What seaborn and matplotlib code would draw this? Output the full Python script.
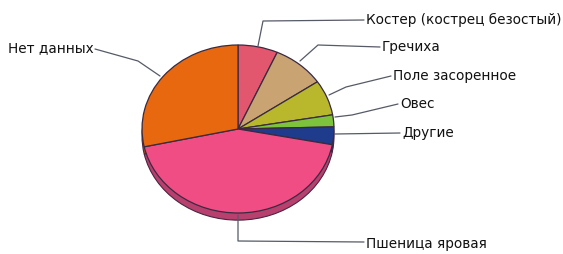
import matplotlib
matplotlib.use("Agg")
import matplotlib.pyplot as plt
import seaborn as sns

# slice data (clockwise from 12 o'clock)
labels = ["Костер (кострец безостый)", "Гречиха", "Поле засоренное", "Овес",
          "Другие", "Пшеница яровая", "Нет данных"]
shares = [6.7, 8.8, 6.8, 2.3, 3.4, 43.6, 28.4]
colors = ["#e2566e", "#c9a472", "#b9b82c", "#7dc43c", "#1f3c8c", "#f04d84", "#e8680f"]
side_colors = ["#b04256", "#9c7f58", "#8f8e22", "#5f962e", "#162c68", "#b8406e", "#b4500c"]

# leader lines in pixel coords: (points, text position, ha)
leaders = [
    ([(258, 47), (263, 22), (364, 21)], (366, 20), "left"),
    ([(300, 62), (318, 46), (380, 48)], (382, 47), "left"),
    ([(329, 96), (346, 88), (391, 77)], (393, 76), "left"),
    ([(335, 118), (352, 116), (398, 105)], (400, 104), "left"),
    ([(335, 135), (400, 134)], (402, 133), "left"),
    ([(238, 216), (238, 242), (364, 243)], (366, 244), "left"),
    ([(95, 50), (138, 62), (160, 77)], (94, 48), "right"),
]

sns.set_style("white")
plt.rcParams["font.family"] = ["DejaVu Sans"]

W, H = 563, 255
fig = plt.figure(figsize=(W / 100, H / 100), dpi=100)

# pie axes: ellipse center (238,130), rx 96, ry 84 in pixels
cx, cy, rx, ry = 238, 130, 96, 84
ax = fig.add_axes([(cx - rx) / W, 1 - (cy + ry * 1.2) / H, 2 * rx / W, 2.2 * ry / H])
depth = 0.085
ax.pie(shares, colors=side_colors, startangle=90, counterclock=False,
       center=(0, -depth), radius=1,
       wedgeprops=dict(edgecolor="#4a2540", linewidth=0.8))
ax.pie(shares, colors=colors, startangle=90, counterclock=False,
       center=(0, 0), radius=1,
       wedgeprops=dict(edgecolor="#3a2a40", linewidth=0.9))
ax.set_aspect("auto")
ax.set_xlim(-1, 1)
ax.set_ylim(-1.2, 1)
ax.axis("off")

# overlay axes for labels in pixel units
ov = fig.add_axes([0, 0, 1, 1])
ov.set_xlim(0, W)
ov.set_ylim(H, 0)
ov.axis("off")
ov.patch.set_alpha(0)
for lab, (pts, (tx, ty), ha) in zip(labels, leaders):
    xs = [p[0] for p in pts]
    ys = [p[1] for p in pts]
    ov.plot(xs, ys, color="#555a66", linewidth=0.9)
    ov.text(tx, ty, lab, ha=ha, va="center", fontsize=9.8, color="#111111")

fig.savefig("out.png", dpi=100, facecolor="white")
